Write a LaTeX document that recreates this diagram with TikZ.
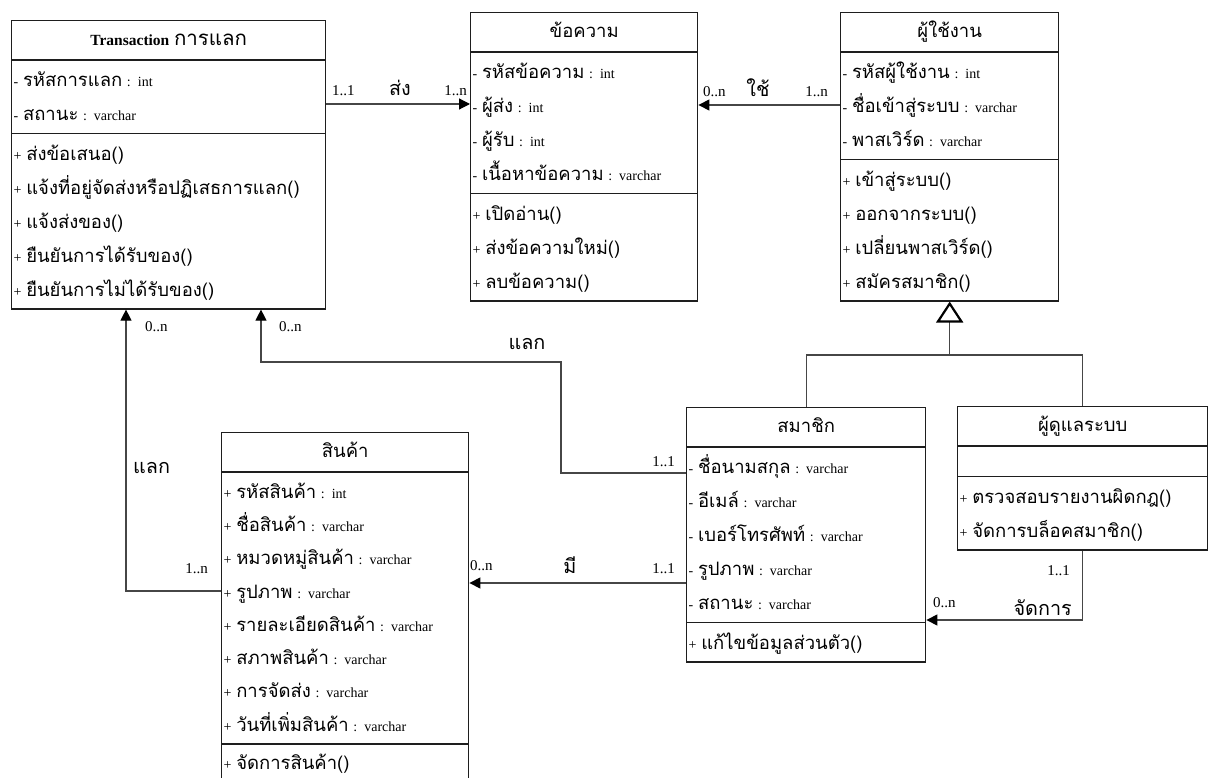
\documentclass[tikz,border=0pt]{standalone}
\usepackage{fontspec}
\setmainfont{Liberation Serif}
\newfontfamily\thaifont[Script=Thai,Scale=1.32]{Loma}
\newcommand\tf[1]{{\thaifont #1}}
\definecolor{myborder}{RGB}{30,30,30}
\definecolor{myconn}{RGB}{70,70,70}
\usetikzlibrary{shapes.multipart,arrows.meta,positioning,calc}
\newcommand\rs{\rule[-10pt]{0pt}{34pt}}
\newcommand\rsb{\rule[-10pt]{0pt}{33.3pt}}
\newcommand\hs{\rule[-12pt]{0pt}{34pt}}
\newcommand\hd[1]{\noindent\hbox to \hsize{\hss\hs #1\hss}}

\begin{document}
\begin{tikzpicture}[
  x=1pt,y=-1pt,
  myclass/.style={
    draw=myborder,
    line width=1.4pt,
    rectangle split,
    rectangle split parts=3,
    anchor=north west,
    inner xsep=2pt,
    inner ysep=2pt,
    align=left,
    text width=#1,
    font=\fontsize{14pt}{34pt}\selectfont
    },
  myassoc/.style={
    draw=myconn,
    line width=1.2pt,
    -{Triangle[length=11pt,width=11pt,color=black]}
    },
  myline/.style={draw=myconn, line width=1.2pt},
  mygen/.style={
    draw=myconn,
    line width=1.2pt,
    -{Triangle[open,length=21pt,width=27pt,line width=2.2pt,color=black]}
    },
  mylabel/.style={inner sep=0pt, font=\fontsize{15pt}{18pt}\selectfont}
]
\useasboundingbox (0,0) rectangle (1208,778);

\node[myclass=310pt] (trans) at (11,20)
  {\hd{\fontsize{15.5pt}{18pt}\selectfont\textbf{Transaction} \tf{การแลก}}
  \nodepart{two}
  \rs- \tf{รหัสการแลก} : int\\
  \rs- \tf{สถานะ} : varchar
  \nodepart{three}
  \rs+ \tf{ส่งข้อเสนอ()}\\
  \rs+ \tf{แจ้งที่อยู่จัดส่งหรือปฏิเสธการแลก()}\\
  \rs+ \tf{แจ้งส่งของ()}\\
  \rs+ \tf{ยืนยันการได้รับของ()}\\
  \rs+ \tf{ยืนยันการไม่ได้รับของ()}};

\node[myclass=223pt] (msg) at (470,12)
  {\hd{\tf{ข้อความ}}
  \nodepart{two}
  \rs- \tf{รหัสข้อความ} : int\\
  \rs- \tf{ผู้ส่ง} : int\\
  \rs- \tf{ผู้รับ} : int\\
  \rs- \tf{เนื้อหาข้อความ} : varchar
  \nodepart{three}
  \rs+ \tf{เปิดอ่าน()}\\
  \rs+ \tf{ส่งข้อความใหม่()}\\
  \rs+ \tf{ลบข้อความ()}};

\node[myclass=214pt] (user) at (840,12)
  {\hd{\tf{ผู้ใช้งาน}}
  \nodepart{two}
  \rs- \tf{รหัสผู้ใช้งาน} : int\\
  \rs- \tf{ชื่อเข้าสู่ระบบ} : varchar\\
  \rs- \tf{พาสเวิร์ด} : varchar
  \nodepart{three}
  \rs+ \tf{เข้าสู่ระบบ()}\\
  \rs+ \tf{ออกจากระบบ()}\\
  \rs+ \tf{เปลี่ยนพาสเวิร์ด()}\\
  \rs+ \tf{สมัครสมาชิก()}};

\node[myclass=235pt] (member) at (686,407)
  {\hd{\tf{สมาชิก}}
  \nodepart{two}
  \rs- \tf{ชื่อนามสกุล} : varchar\\
  \rs- \tf{อีเมล์} : varchar\\
  \rs- \tf{เบอร์โทรศัพท์} : varchar\\
  \rs- \tf{รูปภาพ} : varchar\\
  \rs- \tf{สถานะ} : varchar
  \nodepart{three}
  \rs+ \tf{แก้ไขข้อมูลส่วนตัว()}};

\node[myclass=246pt] (admin) at (957,406)
  {\hd{\tf{ผู้ดูแลระบบ}}
  \nodepart{two}
  \rule[-8pt]{0pt}{25pt}
  \nodepart{three}
  \rs+ \tf{ตรวจสอบรายงานผิดกฎ()}\\
  \rs+ \tf{จัดการบล็อคสมาชิก()}};

\node[myclass=243pt, font=\fontsize{14pt}{33.3pt}\selectfont] (product) at (221,432)
  {\hd{\tf{สินค้า}}
  \nodepart{two}
  \rsb+ \tf{รหัสสินค้า} : int\\
  \rsb+ \tf{ชื่อสินค้า} : varchar\\
  \rsb+ \tf{หมวดหมู่สินค้า} : varchar\\
  \rsb+ \tf{รูปภาพ} : varchar\\
  \rsb+ \tf{รายละเอียดสินค้า} : varchar\\
  \rsb+ \tf{สภาพสินค้า} : varchar\\
  \rsb+ \tf{การจัดส่ง} : varchar\\
  \rsb+ \tf{วันที่เพิ่มสินค้า} : varchar
  \nodepart{three}
  \rsb+ \tf{จัดการสินค้า()}};

\coordinate (ysend) at (0,104);
\coordinate (yuse) at (0,105);
\coordinate (xleft) at (126,0);
\coordinate (yleft) at (0,591);
\coordinate (xright) at (261,0);
\coordinate (ytop) at (0,362);
\coordinate (xbend) at (561,0);
\coordinate (ymem) at (0,473);
\coordinate (yhave) at (0,583);
\coordinate (ymanage) at (0,620);
\coordinate (ybar) at (0,355);

\draw[myassoc] (trans.east |- ysend) -- (msg.west |- ysend);
\draw[myassoc] (user.west |- yuse) -- (msg.east |- yuse);
\draw[myassoc] (product.west |- yleft) -- (xleft |- yleft) -- (xleft |- trans.south);
\draw[myassoc] (member.west |- ymem) -- (xbend |- ymem) -- (xbend |- ytop)
  -- (xright |- ytop) -- (xright |- trans.south);
\draw[myassoc] (member.west |- yhave) -- (product.east |- yhave);
\draw[myassoc] (admin.south) -- (admin.south |- ymanage) -- (member.east |- ymanage);
\draw[myline] (member.north) -- (member.north |- ybar) -- (admin.north |- ybar) -- (admin.north);
\draw[mygen] (user.south |- ybar) -- (user.south);

\node[mylabel, anchor=base west] (m1) at (332,96) {1..1};
\node[mylabel, anchor=base] (r1) at (400,96) {\tf{ส่ง}};
\node[mylabel, anchor=base east] (m2) at (467,96) {1..n};
\node[mylabel, anchor=base west] (m3) at (703,97) {0..n};
\node[mylabel, anchor=base] (r2) at (758,97) {\tf{ใช้}};
\node[mylabel, anchor=base east] (m4) at (828,97) {1..n};
\node[mylabel, anchor=base west] (m5) at (145,331) {0..n};
\node[mylabel, anchor=base west] (r3) at (133,473) {\tf{แลก}};
\node[mylabel, anchor=base east] (m6) at (208,573) {1..n};
\node[mylabel, anchor=base west] (m7) at (279,331) {0..n};
\node[mylabel, anchor=base] (r4) at (527,349) {\tf{แลก}};
\node[mylabel, anchor=base east] (m8) at (675,466) {1..1};
\node[mylabel, anchor=base west] (m9) at (470,570) {0..n};
\node[mylabel, anchor=base] (r5) at (570,573) {\tf{มี}};
\node[mylabel, anchor=base east] (m10) at (675,573) {1..1};
\node[mylabel, anchor=base east] (m11) at (1070,575) {1..1};
\node[mylabel, anchor=base west] (m12) at (933,607) {0..n};
\node[mylabel, anchor=base east] (r6) at (1072,615) {\tf{จัดการ}};

\end{tikzpicture}
\end{document}
